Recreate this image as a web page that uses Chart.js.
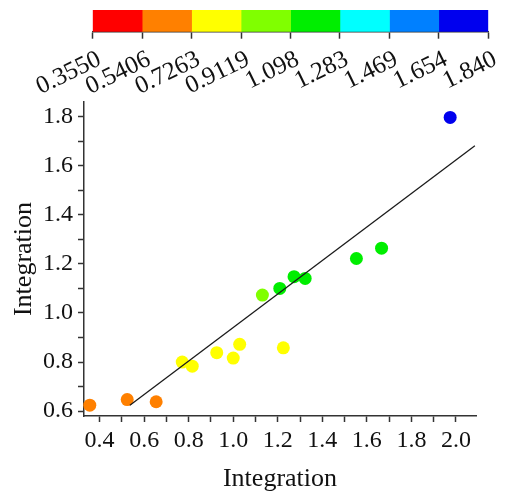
<!DOCTYPE html>
<html>
<head>
<meta charset="utf-8">
<script src="https://cdn.jsdelivr.net/npm/chart.js@4.4.0/dist/chart.umd.min.js"></script>
<style>
  html, body { margin: 0; padding: 0; background: #fff; }
  #wrap { position: relative; width: 506px; height: 498px; }
  #wrap canvas { position: absolute; left: 0; top: 0; }
</style>
</head>
<body>
<div id="wrap">
  <canvas id="mainChart" width="506" height="498"></canvas>
  <canvas id="barChart" width="506" height="100"></canvas>
</div>
<script>
// colour scale levels (top colour bar)
const levelValues = [0.3550, 0.5406, 0.7263, 0.9119, 1.098, 1.283, 1.469, 1.654, 1.840];
const levelLabels = ['0.3550', '0.5406', '0.7263', '0.9119', '1.098', '1.283', '1.469', '1.654', '1.840'];
const levelColors = ['#ff0000', '#ff8000', '#ffff00', '#80ff00', '#00ee00', '#00ffff', '#0080ff', '#0000ee'];

// scatter points
const pointX = [0.356, 0.524, 0.654, 0.771, 0.816, 0.926, 1.000, 1.029, 1.225, 1.131, 1.209, 1.273, 1.323, 1.553, 1.666, 1.974];
const pointY = [0.624, 0.647, 0.638, 0.800, 0.783, 0.838, 0.816, 0.872, 0.858, 1.073, 1.100, 1.148, 1.141, 1.222, 1.264, 1.797];

// fitted line end points
const fitX = [0.536, 2.085];
const fitY = [0.624, 1.682];

const FONT = "'Liberation Serif', 'Times New Roman', serif";
const INK = '#111';
const AXIS = '#333';

function levelColor(v) {
  for (let i = 0; i < levelColors.length; i++) {
    if (v <= levelValues[i + 1]) return levelColors[i];
  }
  return levelColors[levelColors.length - 1];
}

const majorLabel = v => (Math.round(v * 10) % 2 === 0 ? v.toFixed(1) : '');

new Chart(document.getElementById('mainChart'), {
  type: 'scatter',
  data: {
    datasets: [
      {
        label: 'fit',
        data: fitX.map((x, i) => ({ x, y: fitY[i] })),
        showLine: true,
        borderColor: '#1a1a1a',
        borderWidth: 1.3,
        pointRadius: 0,
        clip: false,
      },
      {
        label: 'points',
        data: pointX.map((x, i) => ({ x, y: pointY[i] })),
        pointRadius: 6.5,
        pointBorderWidth: 0,
        pointBackgroundColor: pointY.map(levelColor),
        clip: false,
      },
    ],
  },
  options: {
    responsive: false,
    animation: false,
    layout: { padding: { left: 0, top: 102, right: 30, bottom: 0 } },
    plugins: { legend: { display: false }, tooltip: { enabled: false } },
    scales: {
      x: {
        type: 'linear', min: 0.33, max: 2.09,
        afterFit: s => { s.height = 82; },
        border: { color: AXIS, width: 1.5 },
        grid: { drawOnChartArea: false, tickLength: 6, tickColor: AXIS, tickWidth: 1.5 },
        ticks: {
          stepSize: 0.1, includeBounds: false, autoSkip: false, maxRotation: 0,
          padding: 4, color: INK, font: { family: FONT, size: 24 }, callback: majorLabel,
        },
        title: { display: true, text: 'Integration', color: INK, font: { family: FONT, size: 26 }, padding: { top: 0, bottom: 3 } },
      },
      y: {
        type: 'linear', min: 0.58, max: 1.86,
        afterFit: s => { s.width = 84; },
        border: { color: AXIS, width: 1.5 },
        grid: { drawOnChartArea: false, tickLength: 6, tickColor: AXIS, tickWidth: 1.5 },
        ticks: {
          stepSize: 0.1, includeBounds: false, autoSkip: false,
          padding: 5, color: INK, font: { family: FONT, size: 24 }, callback: majorLabel,
        },
        title: { display: true, text: 'Integration', color: INK, font: { family: FONT, size: 26 }, padding: { top: 9, bottom: 0 } },
      },
    },
  },
});

// colour bar as floating horizontal bars on one row
new Chart(document.getElementById('barChart'), {
  type: 'bar',
  data: {
    labels: ['scale'],
    datasets: levelColors.map((c, i) => ({
      data: [[levelValues[i], levelValues[i + 1]]],
      backgroundColor: c,
      borderWidth: 0,
      barPercentage: 1,
      categoryPercentage: 1,
      grouped: false,
    })),
  },
  options: {
    indexAxis: 'y',
    responsive: false,
    animation: false,
    layout: { padding: { left: 92.7, top: 10, right: 17.7, bottom: 0 } },
    plugins: { legend: { display: false }, tooltip: { enabled: false } },
    scales: {
      y: { display: false },
      x: {
        type: 'linear', min: levelValues[0], max: levelValues[levelValues.length - 1],
        afterBuildTicks: s => { s.ticks = levelValues.map(v => ({ value: v })); },
        afterFit: s => {
          s.height = 100 - 31.7;
          // keep the bar at its fixed width, the rotated labels may overhang
          s.paddingLeft = 0;
          s.paddingRight = 0;
        },
        border: { color: AXIS, width: 1.5 },
        grid: { drawOnChartArea: false, tickLength: 7, tickColor: AXIS, tickWidth: 1.5 },
        ticks: {
          autoSkip: false, minRotation: 26, maxRotation: 26, padding: 6, labelOffset: 7,
          color: INK, font: { family: FONT, size: 25 }, callback: (v, i) => levelLabels[i],
        },
      },
    },
  },
});
</script>
</body>
</html>
